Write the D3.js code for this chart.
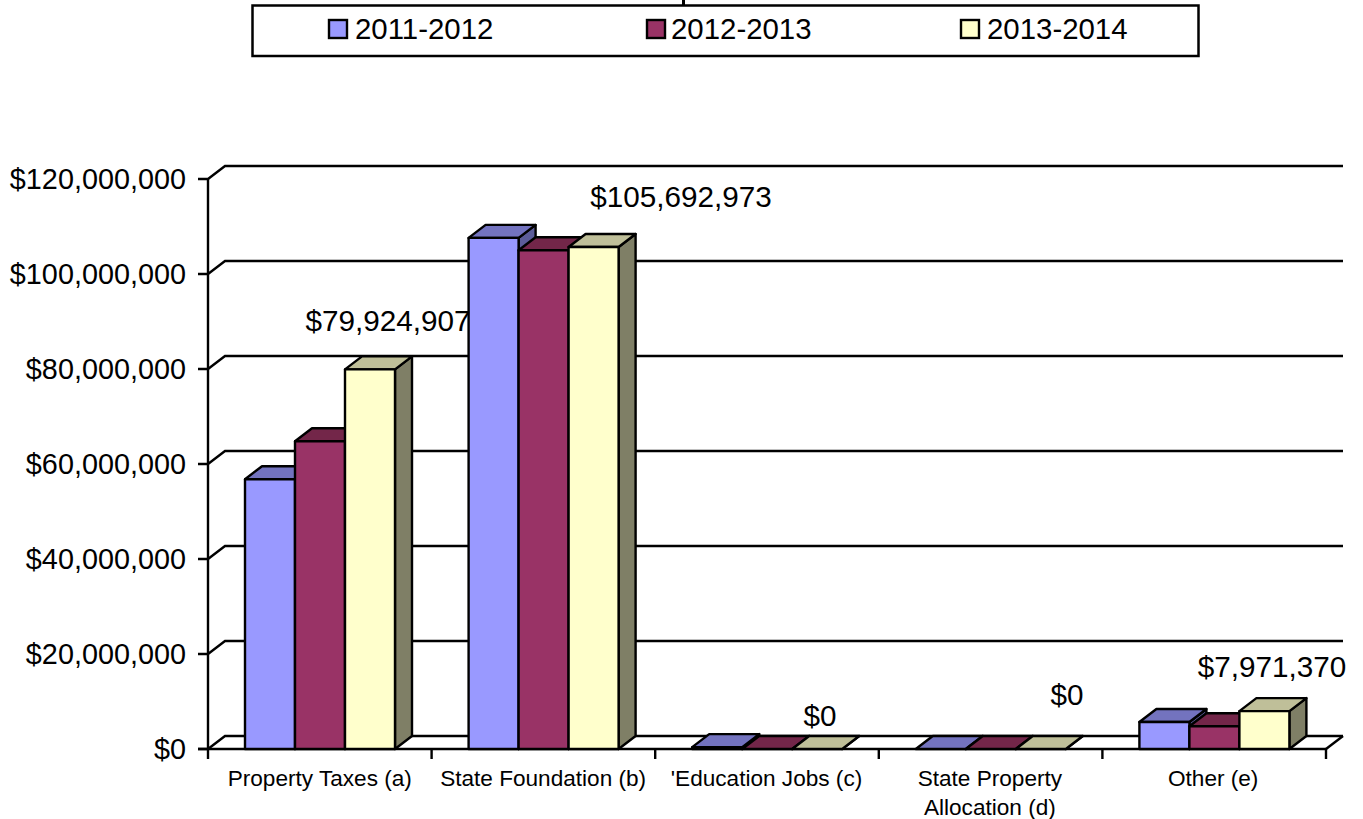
<!DOCTYPE html>
<html>
<head>
<meta charset="utf-8">
<script src="https://cdn.jsdelivr.net/npm/d3@7"></script>
<style>
  html, body { margin: 0; padding: 0; background: #fff; }
  svg { display: block; }
  text { font-family: "Liberation Sans", Arial, sans-serif; fill: #000; }
</style>
</head>
<body>
<svg id="chart" width="1363" height="819"></svg>
<script>
const categories = ["Property Taxes (a)", "State Foundation (b)", "'Education Jobs (c)", ["State Property", "Allocation (d)"], "Other (e)"];
const seriesNames = ["2011-2012", "2012-2013", "2013-2014"];
const values2011 = [56800000, 107600000, 400000, 0, 5700000];
const values2012 = [64800000, 105000000, 0, 0, 4800000];
const values2013 = [79924907, 105692973, 0, 0, 7971370];
const valueLabels = ["$79,924,907", "$105,692,973", "$0", "$0", "$7,971,370"];
const yTicks = [0, 20000000, 40000000, 60000000, 80000000, 100000000, 120000000];
const frontColors = ["#9999FF", "#993366", "#FFFFCC"];
const topColors = ["#7373BF", "#732649", "#BFBF99"];
const sideColors = ["#5C5C99", "#5C1F3D", "#7F7F66"];

const allSeries = [values2011, values2012, values2013];
const svg = d3.select("#chart");
const depthX = 17, depthY = 13;
const strokeW = 2.4;

const y = d3.scaleLinear().domain([0, 120000000]).range([749, 179]);
const xCat = d3.scaleBand().domain(d3.range(categories.length)).range([208, 1326]);
const xBar = d3.scaleBand().domain(d3.range(3)).range([37, 37 + 150]);
const money = d => "$" + d3.format(",")(d);

// Small stub above the legend frame
svg.append("line").attr("x1", 683.5).attr("x2", 683.5).attr("y1", 0).attr("y2", 5)
  .attr("stroke", "#000").attr("stroke-width", 3);

// Back wall gridlines with their short diagonals down to the value axis
const grid = svg.append("g").attr("fill", "none").attr("stroke", "#000").attr("stroke-width", strokeW);
yTicks.forEach(t => {
  const p = d3.path();
  p.moveTo(198, y(t));
  p.lineTo(208, y(t));
  p.lineTo(208 + depthX, y(t) - depthY);
  p.lineTo(1326 + depthX, y(t) - depthY);
  grid.append("path").attr("d", p.toString());
});

// Floor edge on the right and the front axis lines
const floor = d3.path();
floor.moveTo(1326, 749);
floor.lineTo(1326 + depthX, 749 - depthY);
grid.append("path").attr("d", floor.toString());
grid.append("line").attr("x1", 208).attr("x2", 208).attr("y1", y(120000000)).attr("y2", 749);
grid.append("line").attr("x1", 198).attr("x2", 1326).attr("y1", 749).attr("y2", 749);
d3.range(categories.length + 1).forEach(i => {
  const tx = 208 + i * xCat.bandwidth();
  grid.append("line").attr("x1", tx).attr("x2", tx).attr("y1", 749).attr("y2", 759);
});

// Value axis labels
svg.append("g").selectAll("text").data(yTicks).join("text")
  .attr("x", 186).attr("y", d => y(d) + 10)
  .attr("text-anchor", "end").attr("font-size", 28.8)
  .text(money);

// Three-sided bars; each series is painted back to front within its category
const bars = svg.append("g").attr("stroke", "#000").attr("stroke-width", strokeW).attr("stroke-linejoin", "round");
categories.forEach((c, ci) => {
  allSeries.forEach((vals, si) => {
    const x0 = xCat(ci) + xBar(si), x1 = x0 + xBar.bandwidth();
    const top = y(vals[ci]), base = y(0);
    const poly = pts => pts.map(q => q.join(",")).join(" ");
    bars.append("polygon").attr("fill", sideColors[si]).attr("points", poly([
      [x1, top], [x1 + depthX, top - depthY], [x1 + depthX, base - depthY], [x1, base]]));
    bars.append("polygon").attr("fill", topColors[si]).attr("points", poly([
      [x0, top], [x0 + depthX, top - depthY], [x1 + depthX, top - depthY], [x1, top]]));
    if (vals[ci] > 0) {
      bars.append("rect").attr("fill", frontColors[si])
        .attr("x", x0).attr("y", top).attr("width", x1 - x0).attr("height", base - top);
    }
  });
});

// Data labels for the last series
const labelAnchors = [[388, 331], [681, 207], [820, 726], [1067, 705], [1272, 677]];
svg.append("g").selectAll("text").data(valueLabels).join("text")
  .attr("x", (d, i) => labelAnchors[i][0]).attr("y", (d, i) => labelAnchors[i][1])
  .attr("text-anchor", "middle").attr("font-size", 29.7)
  .text(d => d);

// Category labels, wrapped where the name is a pair of lines
const catText = svg.append("g").selectAll("text").data(categories).join("text")
  .attr("text-anchor", "middle").attr("font-size", 22.6);
catText.each(function (d, i) {
  const lines = Array.isArray(d) ? d : [d];
  const cx = xCat(i) + xCat.bandwidth() / 2 - 0.25 * i;
  d3.select(this).selectAll("tspan").data(lines).join("tspan")
    .attr("x", cx).attr("y", (l, k) => 786 + k * 29).text(l => l);
});

// Legend box with its swatches
const legend = svg.append("g");
legend.append("rect").attr("x", 252.5).attr("y", 5.5).attr("width", 946).attr("height", 50.5)
  .attr("fill", "#fff").attr("stroke", "#000").attr("stroke-width", 2.5);
const legendX = [329, 647, 961];
const legendTextX = [355, 671, 987];
seriesNames.forEach((s, i) => {
  legend.append("rect").attr("x", legendX[i]).attr("y", 20).attr("width", 18).attr("height", 18)
    .attr("fill", frontColors[i]).attr("stroke", "#000").attr("stroke-width", 2.4);
  legend.append("text").attr("x", legendTextX[i]).attr("y", 39).attr("font-size", 29.4).text(s);
});
</script>
</body>
</html>
